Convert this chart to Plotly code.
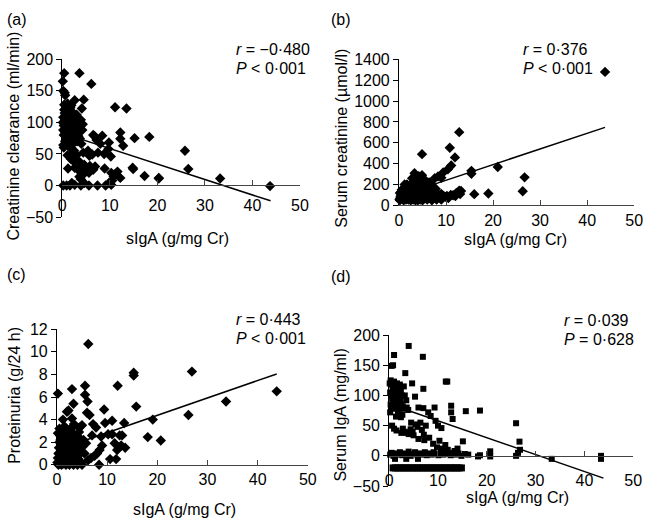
import plotly.graph_objects as go

# ---------------- data ----------------
# (a) Creatinine clearance vs sIgA
a_x = [0.4,3.6,0.1,6.1,0.2,0.5,0.6,2.6,4.5,1.9,4.1,11.1,13.5,
       4.3,12.2,12.2,15.2,18.3,6.5,6.8,8.4,9.8,12.8,7.2,8.0,9.7,8.8,10.2,5.4,
       1.1,2.0,3.0,4.4,5.7,6.3,7.5,
       3.2,3.8,4.6,5.8,6.9,2.4,4.9,
       1.2,3.3,4.4,5.6,6.5,3.6,3.9,4.2,
       8.9,10.3,10.8,11.1,12.2,11.6,14.8,14.9,17.3,20.3,10.5,9.8,2.0,4.6,
       0.2,0.9,1.6,2.6,3.9,5.6,7.4,9.1,10.3,
       25.8,26.5,20.3,33.2,43.7,
       0.1,0.2,0.3,0.2,0.4,0.5,0.6,0.7,0.8,0.5,0.3,0.9,1.0,1.1,1.2,1.0,0.8,0.6,0.2,
       1.3,1.4,1.5,1.6,1.4,1.2,1.7,1.8,1.9,2.0,1.8,2.1,2.2,1.5,1.0,2.3,2.5,2.4,2.6,
       2.8,2.7,3.0,3.2,2.9,3.1,3.4,3.6,3.3,2.0,1.6,2.5,2.2,1.8,0.4,0.7,1.1,3.9,4.2,
       3.7,4.0,0.3,1.9,2.6]
a_y = [178,178,165,161,150,147,143,135,136,127,122,124,122,
       97,84,74,75,77,80,78,79,68,63,72,66,58,50,46,55,
       48,50,48,52,47,49,52,
       40,36,33,31,30,38,28,
       27,25,22,20,25,14,10,16,
       27,20,14,18,12,22,28,26,15,12,8,4,4,4,
       0,0,0,1,0,0,0,0,1,
       55,26,11,11,-1,
       100,108,95,88,120,115,105,98,92,85,80,125,110,102,96,90,75,70,64,
       118,108,100,93,85,80,123,113,104,98,88,82,76,72,67,115,108,96,90,
       83,100,112,104,75,70,78,95,86,64,60,55,45,42,128,112,130,104,88,
       74,66,60,44,28]

# (b) Serum creatinine vs sIgA
b_x = [12.8,10.8,4.9,11.9,11.1,10.4,9.4,15.4,15.4,21.0,3.3,4.9,8.3,9.0,26.3,26.7,43.8,16.0,19.0,13.2,12.2,11.5,10.2,
       0.1,0.3,0.4,0.5,0.6,0.2,0.7,0.8,0.9,1.0,1.1,1.2,1.3,1.4,1.5,1.6,1.7,1.8,2.0,2.1,2.2,2.3,2.5,2.6,2.8,3.0,
       3.1,3.2,3.4,3.5,3.6,3.8,4.0,4.1,4.3,4.5,4.6,4.8,5.0,5.2,5.3,5.5,5.8,6.0,6.2,6.5,6.8,7.0,7.2,7.5,7.8,8.0,
       8.5,8.8,9.0,9.5,10.0,10.5,11.0,12.0,12.8,13.0,0.2,0.5,1.0,1.5,2.0,2.5,3.0,3.5,4.0,4.5,5.0,6.0,7.0,8.0,9.0,
       1.2,2.8,3.6,4.2,5.6,6.4,7.6,2.2,3.9,5.1,6.7]
b_y = [702,553,491,460,383,346,315,331,303,368,309,290,278,265,136,269,1279,108,114,139,120,98,90,
       60,80,100,130,150,120,90,70,110,140,60,85,120,170,95,65,200,130,75,100,160,60,120,90,70,150,
       230,100,200,60,130,85,110,180,70,230,140,90,200,60,160,120,80,210,180,100,70,190,150,90,160,80,
       100,70,110,90,80,70,100,90,140,110,50,70,50,55,55,50,55,50,50,55,50,55,50,55,55,
       200,260,240,280,240,220,260,180,160,110,130]

# (c) Proteinuria vs sIgA
c_x = [6.25,15.3,15.3,0.2,3.0,5.6,12.1,5.6,3.3,6.1,15.8,2.0,2.3,9.4,6.0,6.5,19.1,13.4,11.0,9.6,1.2,3.0,5.0,7.2,7.8,4.5,
       18.1,20.7,26.2,26.9,33.7,43.8,
       11.5,12.0,12.8,13.6,10.6,11.8,8.4,11.0,12.5,13.0,10.2,8.8,7.0,9.0,8.5,8.0,7.5,6.8,6.2,5.0,5.5,5.8,
       0.1,0.2,0.3,0.4,0.5,0.6,0.2,0.7,0.8,0.9,1.0,1.1,1.2,1.3,1.4,1.5,1.6,1.7,1.8,1.9,2.0,2.1,2.2,2.3,2.4,
       2.5,2.6,2.7,2.8,2.9,3.0,3.1,3.2,3.3,3.5,3.6,3.7,3.8,3.9,4.0,4.2,4.3,4.5,4.6,4.8,4.9,5.1,5.3,
       0.5,1.5,2.5,0.9,0.3,1.8,3.3,4.1,1.0,2.0,0.7,3.4,4.4]
c_y = [10.7,8.15,7.9,6.3,6.7,7.0,7.0,6.2,5.4,5.6,5.15,4.7,4.8,4.9,4.6,4.4,4.0,3.7,3.9,3.7,4.0,4.1,3.5,3.6,3.3,3.3,
       2.45,2.15,4.4,8.25,5.6,6.5,
       1.9,1.3,1.7,1.5,0.5,0.5,0.0,2.7,2.6,2.6,2.7,2.5,2.6,1.7,1.3,1.0,0.8,0.6,0.4,0.0,1.0,1.9,
       0.2,0.6,1.0,1.5,2.0,2.6,2.8,0.3,0.8,1.2,1.8,2.3,2.8,0.1,0.5,1.0,1.4,2.0,2.5,3.0,0.3,0.7,1.2,1.7,2.2,
       0.0,0.9,1.5,2.4,3.2,0.4,1.1,1.9,2.7,0.6,1.4,2.2,0.2,1.0,1.7,2.5,0.5,1.3,2.0,0.2,1.1,1.6,2.2,
       3.2,3.4,3.1,0.0,0.0,0.0,0.0,0.0,2.9,2.6,2.2,3.6,2.9]

# (d) Serum IgA vs sIgA
d_x = [4.0,1.0,6.9,0.5,0.8,3.3,11.6,11.9,4.7,7.0,5.3,12.7,12.7,15.7,18.6,9.3,6.0,7.0,8.0,13.0,8.5,9.5,10.7,10.0,
       26.0,26.7,20.7,20.7,18.2,18.6,26.0,26.4,26.8,33.3,43.4,43.4,
       0.1,0.3,0.5,0.7,0.2,0.4,0.6,0.8,1.0,1.2,1.4,1.1,1.3,1.0,0.3,0.5,0.2,1.6,1.8,2.0,1.7,1.9,1.5,1.2,
       2.2,2.4,2.6,2.3,2.5,2.1,1.8,1.4,3.0,3.2,3.5,2.8,3.1,3.6,2.7,2.4,3.9,
       0.6,1.0,1.5,2.5,2.8,3.2,3.6,4.0,4.4,4.8,4.5,5.4,5.8,6.4,6.7,7.1,7.5,5.0,6.0,7.2,8.2,9.0,9.8,10.3,
       11.0,12.0,13.4,14.0,15.1,11.5,
       0.2,0.5,0.9,1.3,1.8,2.2,2.7,3.1,3.6,4.0,4.4,4.9,5.3,5.8,6.2,6.8,7.3,7.7,8.2,8.7,9.1,9.6,10.1,10.6,
       11.1,11.6,12.1,12.6,13.1,13.6,14.2,14.8,15.5,16.2,3.5,1.2,5.9]
d_y = [182,167,164,149,150,137,123,123,120,111,98,83,72,74,75,80,80,79,72,61,66,58,46,50,
       54,23.5,7.5,-1,-1,1,0,5,10,-5,0,-5,
       120,125,118,112,105,100,95,90,123,118,110,102,96,88,85,80,72,120,112,105,98,90,84,78,
       118,108,100,92,85,78,70,65,115,100,92,82,78,80,68,64,76,
       50,45,42,38,45,40,38,36,44,40,55,52,48,55,43,35,50,34,28,26,30,20,14,25,
       12,10,8,12,24,18,
       2,5,0,4,2,6,1,4,2,7,0,3,6,1,4,2,6,1,4,2,6,3,1,5,
       2,7,3,1,5,2,4,0,3,2,-5,-5,-5]
# dense row of points below zero in (d)
d_row_x = [0.8,1.3,1.8,2.3,2.8,3.3,3.8,4.3,4.8,5.3,5.8,6.3,6.8,7.3,7.8,8.3,8.8,9.3,9.8,10.3,
           10.8,11.3,11.8,12.3,12.8,13.3,13.8,14.3,14.8]
d_row_y = [-20]*len(d_row_x)

# regression lines: (intercept, slope, x-start, x-end)
fits = {
    "a": (83.0, -2.45, 0.5, 43.8),
    "b": (91.0, 15.0, 0.5, 43.8),
    "c": (1.3, 0.154, 0.5, 43.8),
    "d": (86.0, -2.8, 0.5, 43.9),
}

panel_labels = ["(a)", "(b)", "(c)", "(d)"]
stats = [("r = −0·480", "P < 0·001"), ("r = 0·376", "P < 0·001"),
         ("r = 0·443", "P < 0·001"), ("r = 0·039", "P = 0·628")]
y_titles = ["Creatinine clearance (ml/min)", "Serum creatinine (µmol/l)",
            "Proteinuria (g/24 h)", "Serum IgA (mg/ml)"]
x_title = "sIgA (g/mg Cr)"
x_ticks = [0, 10, 20, 30, 40, 50]
y_ticks = {
    "a": [-50, 0, 50, 100, 150, 200],
    "b": [0, 200, 400, 600, 800, 1000, 1200, 1400],
    "c": [0, 2, 4, 6, 8, 10, 12],
    "d": [-50, 0, 50, 100, 150, 200],
}

# ---------------- layout ----------------
W, H = 653, 526
FONT = "Liberation Sans, Arial, Helvetica, sans-serif"
FS = 16

def px(x):
    return x / W

def py(y):
    return 1 - y / H

fig = go.Figure()

# panel geometry in pixels: (x0, x1, ytop, ybottom)
geom = {
    "a": (59.5, 302, 53, 216),
    "b": (403, 643, 53, 204),
    "c": (54, 310, 332, 472),
    "d": (393, 642, 338, 494),
}
yr = {"a": [-50, 200], "b": [0, 1400], "c": [0, 12], "d": [-50, 200]}
series = {"a": (a_x, a_y, "diamond", 8), "b": (b_x, b_y, "diamond", 8),
          "c": (c_x, c_y, "diamond", 8), "d": (d_x, d_y, "square", 6)}

axis_line = "#444444"
keys = ["a", "b", "c", "d"]
for i, k in enumerate(keys):
    n = i + 1
    xa = "x" if n == 1 else f"x{n}"
    ya = "y" if n == 1 else f"y{n}"
    x0, x1, yt, yb = geom[k]
    dom_x = [px(x0), px(x1)]
    dom_y = [py(yb), py(yt)]
    xs, ys, sym, sz = series[k]
    fig.add_trace(go.Scatter(x=xs, y=ys, mode="markers", xaxis=xa, yaxis=ya,
                             marker=dict(symbol=sym, size=sz, color="black", line=dict(width=0)),
                             cliponaxis=False, showlegend=False, hoverinfo="skip"))
    if k == "d":
        fig.add_trace(go.Scatter(x=d_row_x, y=d_row_y, mode="markers", xaxis=xa, yaxis=ya,
                                 marker=dict(symbol="square", size=7, color="black", line=dict(width=0)),
                                 cliponaxis=False, showlegend=False, hoverinfo="skip"))
    a0, b0, xs0, xs1 = fits[k]
    fig.add_trace(go.Scatter(x=[xs0, xs1], y=[a0 + b0 * xs0, a0 + b0 * xs1], mode="lines",
                             xaxis=xa, yaxis=ya, line=dict(color="black", width=1.5),
                             cliponaxis=False, showlegend=False, hoverinfo="skip"))

    yaxis = dict(domain=dom_y, anchor=xa, range=yr[k], tickvals=y_ticks[k],
                 showline=True, linecolor="black", linewidth=1, ticks="outside",
                 ticklen=5, tickcolor="black", showgrid=False, zeroline=False,
                 tickfont=dict(family=FONT, size=FS, color="black"))
    if k in ("a", "d"):
        # labels axis placed a little above the bottom of the y range
        lab_pos = {"a": py(192), "d": py(476)}[k]
        xaxis = dict(domain=dom_x, anchor="free", position=lab_pos, range=[0, 50],
                     tickvals=x_ticks, showline=False, ticks="", showgrid=False,
                     zeroline=False, tickfont=dict(family=FONT, size=FS, color="black"))
        # axis line at y = 0
        y0_frac = (0 - yr[k][0]) / (yr[k][1] - yr[k][0])
        pos0 = dom_y[0] + y0_frac * (dom_y[1] - dom_y[0])
        ov = f"x{n + 4}"
        fig.update_layout(**{
            ("xaxis" + str(n + 4)): dict(domain=dom_x, overlaying=xa, anchor="free",
                                         position=pos0, range=[0, 50], tickvals=x_ticks,
                                         showticklabels=False, showline=True,
                                         linecolor=axis_line, linewidth=1, ticks="inside",
                                         ticklen=5, tickcolor=axis_line, showgrid=False,
                                         zeroline=False)})
        # dummy trace so the overlay axis renders
        fig.add_trace(go.Scatter(x=[None], y=[None], xaxis=ov, yaxis=ya, showlegend=False))
    else:
        xaxis = dict(domain=dom_x, anchor=ya, range=[0, 50], tickvals=x_ticks,
                     showline=True, linecolor=axis_line, linewidth=1, ticks="inside",
                     ticklen=5, tickcolor=axis_line, showgrid=False, zeroline=False,
                     tickfont=dict(family=FONT, size=FS, color="black"))
    fig.update_layout(**{("xaxis" if n == 1 else f"xaxis{n}"): xaxis,
                         ("yaxis" if n == 1 else f"yaxis{n}"): yaxis})

# ---------------- annotations ----------------
ann = []
def text(x, y, s, angle=0, xanchor="center"):
    ann.append(dict(x=px(x), y=py(y), xref="paper", yref="paper", text=s, showarrow=False,
                    textangle=angle, xanchor=xanchor, yanchor="middle",
                    font=dict(family=FONT, size=FS, color="black")))

label_pos = [(1, 12), (332, 12), (1, 275), (332, 277)]
stat_pos = [(235, 43, 63), (527, 43, 63), (235, 322, 342), (569, 323, 343)]
xt_pos = [(177, 238), (522, 239), (184, 518), (524, 506)]
yt_pos = [(10, 132), (345, 135), (10, 400), (343, 421)]
for i in range(4):
    text(label_pos[i][0], label_pos[i][1], panel_labels[i], xanchor="left")
    r_s, p_s = stats[i]
    r_html = "<i>r</i>" + r_s[1:]
    p_html = "<i>P</i>" + p_s[1:]
    text(stat_pos[i][0], stat_pos[i][1], r_html, xanchor="left")
    text(stat_pos[i][0], stat_pos[i][2], p_html, xanchor="left")
    text(xt_pos[i][0], xt_pos[i][1], x_title)
    text(yt_pos[i][0], yt_pos[i][1], y_titles[i], angle=-90)

fig.update_layout(width=W, height=H, margin=dict(l=0, r=0, t=0, b=0),
                  paper_bgcolor="white", plot_bgcolor="white", annotations=ann,
                  font=dict(family=FONT, size=FS, color="black"), showlegend=False)

fig.write_html("out.html", config={"displayModeBar": False, "staticPlot": True})

# remove the browser's default page margin so the figure sits at (0, 0)
with open("out.html", "r", encoding="utf-8") as f:
    html = f.read()
html = html.replace("<head>", "<head><style>html,body{margin:0;padding:0;overflow:hidden;}</style>", 1)
with open("out.html", "w", encoding="utf-8") as f:
    f.write(html)
